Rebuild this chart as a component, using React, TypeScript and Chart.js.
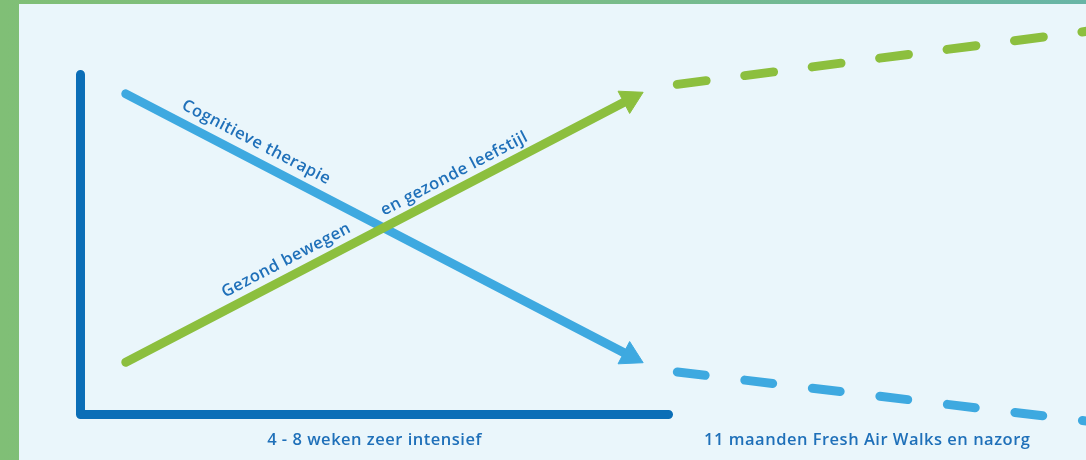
import React, { useEffect, useRef } from "react";
import { Chart, registerables } from "chart.js";

Chart.register(...registerables);

// Conceptual diagram: x 0–10 = intensive phase (4–8 weeks), 10–17 = follow-up (11 months)
const axisX = [0, 0, 10];
const axisY = [10, 0, 0];

const therapyX = [0.77, 9.35];
const therapyY = [9.43, 1.72];
const therapyFollowX = [10.15, 17.29];
const therapyFollowY = [1.25, -0.23];

const lifestyleX = [0.77, 9.35];
const lifestyleY = [1.54, 9.28];
const lifestyleFollowX = [10.15, 17.29];
const lifestyleFollowY = [9.71, 11.31];

const phaseLabels = ["4 - 8 weken zeer intensief", "11 maanden Fresh Air Walks en nazorg"];
const phaseCenters = [5.0, 13.38];
const phaseLabelY = -0.75;

const lineLabels = ["Cognitieve therapie", "Gezond bewegen", "en gezonde leefstijl"];

const AXIS = "#0b6eb7";
const BLUE = "#3ea9e0";
const GREEN = "#8cbf3e";
const TEXT = "#1f70b9";

const pts = (xs: number[], ys: number[]) => xs.map((x, i) => ({ x, y: ys[i] }));

const arrowRotation = (c: any) => {
  const chart = c.chart;
  const ds = chart.data.datasets[c.datasetIndex] as any;
  const d = ds.data;
  const sx = chart.scales.x;
  const sy = chart.scales.y;
  if (!sx || !sy) return 0;
  const dx = sx.getPixelForValue(d[1].x) - sx.getPixelForValue(d[0].x);
  const dy = sy.getPixelForValue(d[1].y) - sy.getPixelForValue(d[0].y);
  return 90 + (Math.atan2(dy, dx) * 180) / Math.PI;
};

const labelPlugin = {
  id: "diagramLabels",
  afterDatasetsDraw(chart: any) {
    const ctx = chart.ctx as any;
    const xs = chart.scales.x;
    const ys = chart.scales.y;
    ctx.save();
    ctx.fillStyle = TEXT;
    ctx.textAlign = "center";
    ctx.textBaseline = "middle";
    ctx.font = '600 16.5px "Open Sans"';
    ctx.letterSpacing = "0.5px";
    phaseLabels.forEach((t, i) => {
      ctx.fillText(t, xs.getPixelForValue(phaseCenters[i]), ys.getPixelForValue(phaseLabelY));
    });

    const specs = [
      { ds: "therapy", frac: 0.243, off: 17, text: lineLabels[0] },
      { ds: "lifestyle", frac: 0.333, off: 16, text: lineLabels[1] },
      { ds: "lifestyle", frac: 0.665, off: 15, text: lineLabels[2] },
    ];
    ctx.font = '600 16.5px "Open Sans"';
    ctx.letterSpacing = "0.5px";
    for (const s of specs) {
      const idx = chart.data.datasets.findIndex((d: any) => d.label === s.ds);
      const el = chart.getDatasetMeta(idx).data;
      const a = el[0];
      const b = el[1];
      const dx = b.x - a.x;
      const dy = b.y - a.y;
      const len = Math.hypot(dx, dy);
      const ux = dx / len;
      const uy = dy / len;
      let nx = uy;
      let ny = -ux;
      if (ny > 0) {
        nx = -nx;
        ny = -ny;
      }
      const cx = a.x + ux * len * s.frac + nx * s.off;
      const cy = a.y + uy * len * s.frac + ny * s.off;
      ctx.save();
      ctx.translate(cx, cy);
      ctx.rotate(Math.atan2(dy, dx));
      ctx.fillText(s.text, 0, 0);
      ctx.restore();
    }
    ctx.restore();
  },
};

export default function App() {
  const ref = useRef<HTMLCanvasElement | null>(null);

  useEffect(() => {
    if (!ref.current) return;
    const solid = (label: string, xs: number[], ys: number[], color: string, order: number) => ({
      label,
      data: pts(xs, ys),
      borderColor: color,
      backgroundColor: color,
      borderWidth: 9,
      borderCapStyle: "round",
      borderJoinStyle: "round",
      pointRadius: [0, 14.5],
      pointHoverRadius: [0, 14.5],
      pointStyle: "triangle",
      pointRotation: arrowRotation,
      pointBackgroundColor: color,
      pointBorderColor: color,
      pointBorderWidth: 1,
      tension: 0,
      order,
    });
    const dashed = (label: string, xs: number[], ys: number[], color: string, dash: number[], order: number) => ({
      label,
      data: pts(xs, ys),
      borderColor: color,
      borderWidth: 9,
      borderDash: dash,
      borderCapStyle: "round",
      pointRadius: 0,
      pointHoverRadius: 0,
      tension: 0,
      order,
    });

    const chart = new Chart(ref.current, {
      type: "line",
      data: {
        datasets: [
          {
            label: "axis",
            data: pts(axisX, axisY),
            borderColor: AXIS,
            borderWidth: 9,
            borderCapStyle: "round",
            borderJoinStyle: "round",
            pointRadius: 0,
            pointHoverRadius: 0,
            tension: 0,
            order: 5,
          } as any,
          solid("therapy", therapyX, therapyY, BLUE, 4) as any,
          dashed("therapyFollow", therapyFollowX, therapyFollowY, BLUE, [28, 40], 3) as any,
          solid("lifestyle", lifestyleX, lifestyleY, GREEN, 1) as any,
          dashed("lifestyleFollow", lifestyleFollowX, lifestyleFollowY, GREEN, [29, 39], 2) as any,
        ],
      },
      options: {
        animation: false,
        responsive: false,
        events: [],
        layout: { padding: 0, autoPadding: false },
        scales: {
          x: { type: "linear", min: -1.369, max: 17.1, display: false },
          y: { type: "linear", min: -1.338, max: 12.191, display: false },
        },
        plugins: {
          legend: { display: false },
          tooltip: { enabled: false },
        },
      } as any,
      plugins: [labelPlugin],
    });
    return () => chart.destroy();
  }, []);

  return (
    <div
      style={{
        position: "fixed",
        left: 0,
        top: 0,
        width: 1086,
        height: 460,
        overflow: "hidden",
        background: "linear-gradient(90deg, #80bf76 0%, #7bbd85 50%, #68b5a6 100%)",
      }}
    >
      <div
        style={{
          position: "absolute",
          left: 19,
          top: 4,
          right: 0,
          bottom: 0,
          background: "#eaf6fb",
        }}
      />
      <canvas
        ref={ref}
        width={1086}
        height={460}
        style={{ position: "absolute", left: 0, top: 0, width: 1086, height: 460 }}
      />
    </div>
  );
}
